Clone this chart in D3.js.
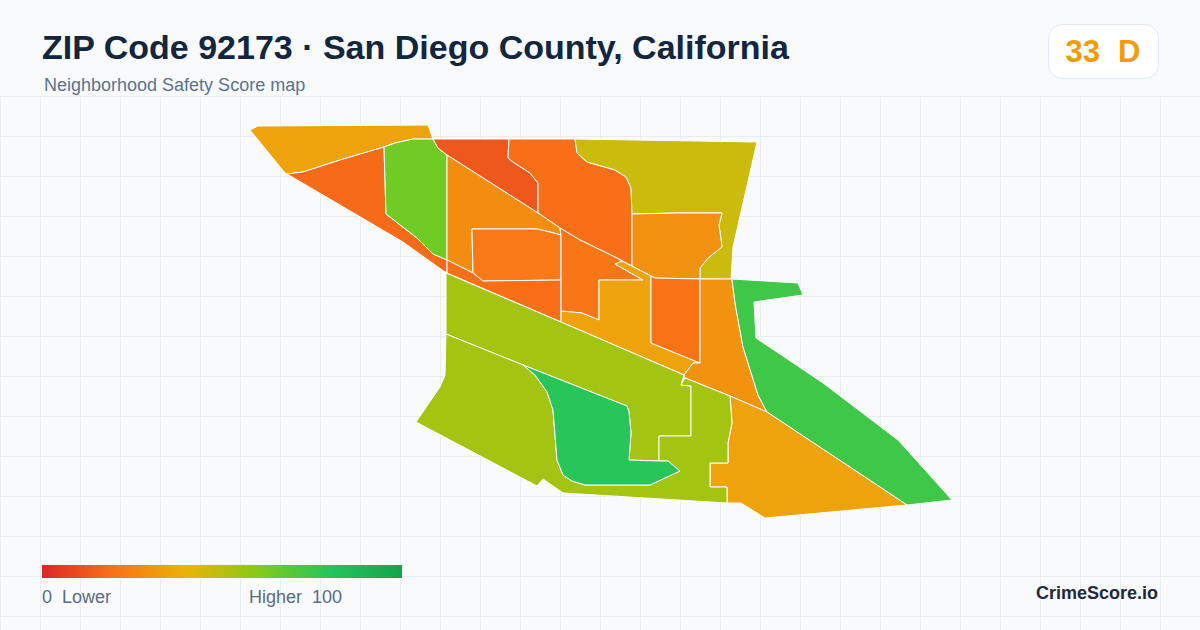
<!DOCTYPE html>
<html>
<head>
<meta charset="utf-8">
<script src="https://cdn.jsdelivr.net/npm/d3@7"></script>
<style>
  html, body { margin: 0; padding: 0; background: #f8fafc; }
  svg { display: block; font-family: "Liberation Sans", Arial, sans-serif; }
</style>
</head>
<body>
<div id="chart"></div>
<script>
// Score of every neighborhood
const zoneScores = [35, 18, 64, 13, 19, 46, 29, 28, 22, 19, 21, 35, 20, 30, 74, 35, 54, 54, 79];

// Outlines in map units, same order as zoneScores
const zoneRings = [
  [[0,5],[8,1],[178,0],[183,14],[163,14],[145,18],[134,22],[90,35],[53,47],[37,49],[35,48]],
  [[37,49],[53,47],[90,35],[134,22],[136,89],[167,113],[183,129],[197,135],[197,147],[195,147],[153,117]],
  [[134,22],[145,18],[163,14],[183,14],[188,23],[197,30],[197,135],[183,129],[167,113],[136,89]],
  [[183,14],[259,14],[258,33],[263,37],[280,48],[288,58],[288,88],[197,30],[188,23]],
  [[259,14],[325,14],[327,28],[337,37],[365,45],[376,52],[381,63],[382,89],[382,141],[367,133],[330,115],[310,103],[288,88],[288,58],[280,48],[263,37],[258,33]],
  [[325,14],[507,17],[483,122],[481,154],[450,154],[450,143],[458,133],[472,122],[469,100],[472,88],[427,88],[382,89],[381,63],[376,52],[365,45],[337,37],[327,28]],
  [[382,89],[427,88],[472,88],[469,100],[472,122],[458,133],[450,143],[450,154],[405,153],[382,141]],
  [[197,30],[288,88],[310,103],[311,110],[300,107],[287,104],[222,104],[223,148],[197,135]],
  [[222,104],[287,104],[300,107],[311,110],[311,155],[233,156],[223,148]],
  [[197,135],[223,148],[233,156],[311,155],[311,197],[197,148]],
  [[310,103],[330,115],[367,133],[372,136],[365,139],[393,155],[349,155],[349,195],[332,188],[311,186],[311,110]],
  [[311,186],[332,188],[349,195],[349,155],[393,155],[365,139],[372,136],[401,151],[401,218],[450,238],[443,238],[434,250],[311,197]],
  [[401,151],[405,153],[450,154],[450,238],[401,218]],
  [[450,154],[482,154],[485,178],[493,222],[508,270],[517,287],[480,271],[435,253],[434,250],[443,238],[450,238]],
  [[482,154],[548,158],[553,170],[504,177],[506,213],[573,258],[648,315],[702,375],[657,380],[517,287],[508,270],[493,222],[485,178]],
  [[480,271],[482,298],[478,318],[478,338],[460,338],[460,362],[477,362],[477,378],[491,378],[515,393],[657,380],[517,287]],
  [[196,148],[311,197],[434,250],[431,260],[441,261],[441,311],[409,311],[409,336],[379,335],[381,308],[379,287],[377,281],[273,240],[196,209]],
  [[196,209],[273,240],[285,250],[297,267],[303,285],[307,335],[313,350],[322,356],[335,360],[400,360],[430,346],[418,336],[409,336],[409,311],[441,311],[441,261],[431,260],[435,253],[480,271],[482,298],[478,318],[478,338],[460,338],[460,362],[477,362],[477,378],[313,368],[293,354],[287,361],[166,297],[190,262],[195,250]],
  [[273,240],[377,281],[379,287],[381,308],[379,335],[409,336],[418,336],[430,346],[400,360],[335,360],[322,356],[313,350],[307,335],[303,285],[297,267],[285,250]]
];

// Color ramp of the score
const rampStops = [0, 20, 40, 60, 80, 100];
const rampColors = ['#dc2626', '#f97316', '#eab308', '#84cc16', '#22c55e', '#16a34a'];

const titleText = 'ZIP Code 92173 · San Diego County, California';
const subtitleText = 'Neighborhood Safety Score map';
const zipScore = 33;
const zipGrade = 'D';

const width = 1200;
const height = 630;

let svg = d3.select('#chart')
            .append('svg')
            .attr('width', width)
            .attr('height', height);

svg.append('rect')
   .attr('width', width)
   .attr('height', height)
   .attr('fill', '#f8fafc');

// Background grid
let grid = svg.append('g')
              .attr('stroke', '#e6eef3')
              .attr('stroke-width', 1);

grid.selectAll('.v')
    .data(d3.range(0.5, width, 40))
    .enter()
    .append('line')
    .attr('class', 'v')
    .attr('x1', d => d)
    .attr('x2', d => d)
    .attr('y1', 96)
    .attr('y2', height);

grid.selectAll('.h')
    .data(d3.range(96.5, height, 40))
    .enter()
    .append('line')
    .attr('class', 'h')
    .attr('x1', 0)
    .attr('x2', width)
    .attr('y1', d => d)
    .attr('y2', d => d);

// Map
let color = d3.scaleLinear()
              .domain(rampStops)
              .range(rampColors);

// geoPath wants closed rings
let zones = {
  type: 'FeatureCollection',
  features: zoneRings.map((ring, i) => ({
    type: 'Feature',
    properties: { score: zoneScores[i] },
    geometry: { type: 'Polygon', coordinates: [ring.concat([ring[0]])] }
  }))
};

let projection = d3.geoIdentity().fitExtent([[250, 125], [952, 518]], zones);
let path = d3.geoPath(projection);

svg.append('g')
   .selectAll('path')
   .data(zones.features)
   .enter()
   .append('path')
   .attr('d', path)
   .attr('fill', d => color(d.properties.score))
   .attr('stroke', '#ffffff')
   .attr('stroke-width', 1)
   .attr('stroke-linejoin', 'round');

// Header
svg.append('text')
   .attr('x', 42)
   .attr('y', 59)
   .attr('font-size', 34)
   .attr('font-weight', 700)
   .attr('fill', '#12263f')
   .text(titleText);

svg.append('text')
   .attr('x', 44)
   .attr('y', 91)
   .attr('font-size', 18)
   .attr('fill', '#5b7390')
   .text(subtitleText);

// Score badge
svg.append('rect')
   .attr('x', 1048.5)
   .attr('y', 24.5)
   .attr('width', 110)
   .attr('height', 54)
   .attr('rx', 14)
   .attr('fill', '#ffffff')
   .attr('stroke', '#e2e8f0');

svg.append('text')
   .attr('x', 1065.5)
   .attr('y', 61.5)
   .attr('font-size', 31)
   .attr('font-weight', 700)
   .attr('fill', color(zipScore))
   .text(zipScore);

svg.append('text')
   .attr('x', 1118)
   .attr('y', 61.5)
   .attr('font-size', 31)
   .attr('font-weight', 700)
   .attr('fill', color(zipScore))
   .text(zipGrade);

// Legend
let gradient = svg.append('defs')
                  .append('linearGradient')
                  .attr('id', 'ramp');

gradient.selectAll('stop')
        .data(rampStops)
        .enter()
        .append('stop')
        .attr('offset', d => d + '%')
        .attr('stop-color', d => color(d));

svg.append('rect')
   .attr('x', 42)
   .attr('y', 565)
   .attr('width', 360)
   .attr('height', 13)
   .attr('fill', 'url(#ramp)');

svg.append('text')
   .attr('x', 42)
   .attr('y', 603)
   .attr('font-size', 18)
   .attr('fill', '#5b6b85')
   .style('white-space', 'pre')
   .text('0  Lower');

svg.append('text')
   .attr('x', 249)
   .attr('y', 603)
   .attr('font-size', 18)
   .attr('fill', '#5b6b85')
   .style('white-space', 'pre')
   .text('Higher  100');

svg.append('text')
   .attr('x', 1158)
   .attr('y', 599)
   .attr('text-anchor', 'end')
   .attr('font-size', 18)
   .attr('font-weight', 700)
   .attr('fill', '#1e293b')
   .text('CrimeScore.io');
</script>
</body>
</html>
